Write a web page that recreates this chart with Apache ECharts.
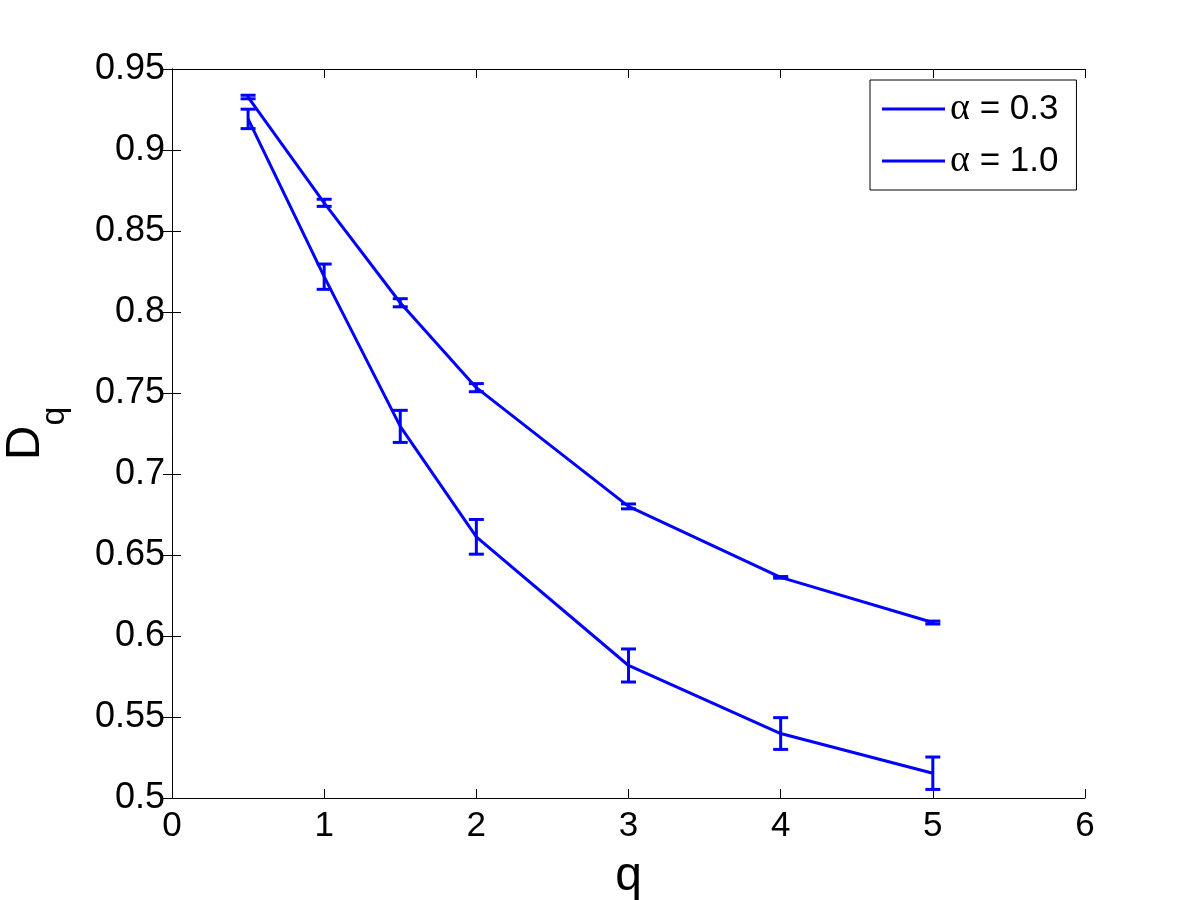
<!DOCTYPE html>
<html>
<head>
<meta charset="utf-8">
<script src="https://cdn.jsdelivr.net/npm/echarts@6/dist/echarts.min.js"></script>
<style>html,body{margin:0;padding:0;background:#fff;}#c{width:1200px;height:900px;}</style>
</head>
<body>
<div id="c"></div>
<script>
const qValues = [0.5, 1, 1.5, 2, 3, 4, 5];
const dqAlpha03 = [0.9327, 0.8674, 0.8057, 0.7533, 0.6800, 0.6362, 0.6083];
const errAlpha03 = [0.0011, 0.0022, 0.0025, 0.0025, 0.0015, 0.0005, 0.0009];
const dqAlpha10 = [0.9192, 0.8218, 0.7294, 0.6612, 0.5818, 0.5398, 0.5153];
const errAlpha10 = [0.0060, 0.0078, 0.0099, 0.0107, 0.0102, 0.0098, 0.0100];
const seriesNames = ['α = 0.3', 'α = 1.0'];
const xTicks = [0, 1, 2, 3, 4, 5, 6];
const yTicks = [0.5, 0.55, 0.6, 0.65, 0.7, 0.75, 0.8, 0.85, 0.9, 0.95];

const BLUE = '#0000ff';
const FONT = 'Liberation Sans, Arial, sans-serif';

function lineData(vals) { return qValues.map((q, i) => [q, vals[i]]); }
function errData(vals, errs) { return qValues.map((q, i) => [q, vals[i] - errs[i], vals[i] + errs[i]]); }

function renderErr(params, api) {
  const x = api.value(0);
  const lo = api.coord([x, api.value(1)]);
  const hi = api.coord([x, api.value(2)]);
  const hw = 7.5;
  const style = { stroke: BLUE, lineWidth: 3, fill: 'none' };
  return {
    type: 'group',
    children: [
      { type: 'line', shape: { x1: lo[0], y1: lo[1], x2: hi[0], y2: hi[1] }, style: style },
      { type: 'line', shape: { x1: lo[0] - hw, y1: lo[1], x2: lo[0] + hw, y2: lo[1] }, style: style },
      { type: 'line', shape: { x1: hi[0] - hw, y1: hi[1], x2: hi[0] + hw, y2: hi[1] }, style: style }
    ]
  };
}

const chart = echarts.init(document.getElementById('c'), null, { renderer: 'canvas' });
const axisCommon = {
  axisLine: { show: true, lineStyle: { color: '#000', width: 1 } },
  axisTick: { show: true, inside: true, length: 9, lineStyle: { color: '#000', width: 1 } },
  splitLine: { show: false }
};
chart.setOption({
  backgroundColor: '#fff',
  animation: false,
  grid: { left: 172, right: 115, top: 69, bottom: 102, containLabel: false, outerBoundsMode: 'none' },
  legend: {
    data: seriesNames,
    orient: 'vertical',
    left: 870, top: 80,
    backgroundColor: '#fff',
    borderColor: '#000', borderWidth: 1, borderRadius: 0,
    padding: [10, 18, 10, 12],
    itemGap: 14,
    itemWidth: 63, itemHeight: 3,
    itemStyle: { borderWidth: 0 },
    icon: 'rect',
    itemTextGap: 6,
    formatter: function (name) {
      return '{a|α}{b|' + name.slice(1) + '}';
    },
    textStyle: {
      color: '#000',
      rich: {
        a: { fontFamily: 'Liberation Serif, DejaVu Serif, serif', fontSize: 38, lineHeight: 35, color: '#000' },
        b: { fontFamily: FONT, fontSize: 35, lineHeight: 35, color: '#000' }
      }
    }
  },
  xAxis: [
    Object.assign({}, axisCommon, {
      type: 'value', min: xTicks[0], max: xTicks[xTicks.length - 1], interval: 1,
      position: 'bottom',
      axisLabel: { color: '#000', fontFamily: FONT, fontSize: 35, margin: 11 },
      name: 'q', nameLocation: 'middle', nameGap: 55,
      nameTextStyle: { color: '#000', fontFamily: FONT, fontSize: 48 }
    }),
    Object.assign({}, axisCommon, {
      type: 'value', min: xTicks[0], max: xTicks[xTicks.length - 1], interval: 1,
      position: 'top', axisLabel: { show: false }
    })
  ],
  yAxis: [
    Object.assign({}, axisCommon, {
      type: 'value', min: yTicks[0], max: yTicks[yTicks.length - 1], interval: 0.05,
      position: 'left',
      axisLabel: {
        color: '#000', fontFamily: FONT, fontSize: 36, margin: 7,
        formatter: v => String(parseFloat(v.toFixed(2)))
      },
      name: '{d|D}{q|q}', nameLocation: 'middle', nameRotate: 90, nameGap: 120,
      nameTextStyle: {
        color: '#000',
        rich: {
          d: { fontFamily: FONT, fontSize: 48, lineHeight: 50, verticalAlign: 'top', color: '#000' },
          q: { fontFamily: FONT, fontSize: 34, lineHeight: 34, verticalAlign: 'top', padding: [36, 0, 0, 0], color: '#000' }
        }
      }
    }),
    Object.assign({}, axisCommon, {
      type: 'value', min: yTicks[0], max: yTicks[yTicks.length - 1], interval: 0.05,
      position: 'right', axisLabel: { show: false }
    })
  ],
  series: [
    { name: seriesNames[0], type: 'line', data: lineData(dqAlpha03), symbol: 'none',
      lineStyle: { color: BLUE, width: 3 }, itemStyle: { color: BLUE }, z: 3 },
    { name: seriesNames[1], type: 'line', data: lineData(dqAlpha10), symbol: 'none',
      lineStyle: { color: BLUE, width: 3 }, itemStyle: { color: BLUE }, z: 3 },
    { name: 'err03', type: 'custom', data: errData(dqAlpha03, errAlpha03), renderItem: renderErr, z: 4 },
    { name: 'err10', type: 'custom', data: errData(dqAlpha10, errAlpha10), renderItem: renderErr, z: 4 }
  ]
});
</script>
</body>
</html>
